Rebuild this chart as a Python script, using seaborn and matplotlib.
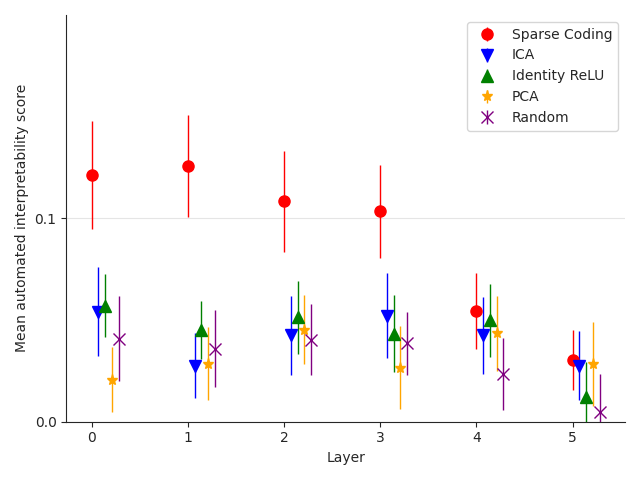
import numpy as np
import pandas as pd
import seaborn as sns
import matplotlib
matplotlib.use('Agg')
import matplotlib.pyplot as plt

layers = [0, 1, 2, 3, 4, 5]
methods = ['Sparse Coding', 'ICA', 'Identity ReLU', 'PCA', 'Random']

sparse_mean = [0.1212, 0.1256, 0.1084, 0.1034, 0.0545, 0.0305]
sparse_err = [0.0266, 0.0250, 0.0247, 0.0230, 0.0185, 0.0147]
ica_mean = [0.0542, 0.0276, 0.0424, 0.0522, 0.0424, 0.0276]
ica_err = [0.0220, 0.0158, 0.0192, 0.0210, 0.0187, 0.0169]
relu_mean = [0.0571, 0.0453, 0.0514, 0.0433, 0.0498, 0.0120]
relu_err = [0.0155, 0.0143, 0.0180, 0.0190, 0.0180, 0.0172]
pca_mean = [0.0207, 0.0286, 0.0453, 0.0266, 0.0435, 0.0284]
pca_err = [0.0160, 0.0178, 0.0170, 0.0203, 0.0184, 0.0207]
random_mean = [0.0409, 0.0360, 0.0404, 0.0386, 0.0235, 0.0049]
random_err = [0.0207, 0.0190, 0.0175, 0.0155, 0.0177, 0.0186]

means = [sparse_mean, ica_mean, relu_mean, pca_mean, random_mean]
errs = [sparse_err, ica_err, relu_err, pca_err, random_err]

rows = []
for i, m in enumerate(methods):
    for j, layer in enumerate(layers):
        rows.append({'method': m, 'layer': layer,
                     'score': means[i][j], 'err': errs[i][j]})
df = pd.DataFrame(rows)

sns.set_style('ticks')
fig, ax = plt.subplots(figsize=(6.4, 4.8), dpi=100)

colors = ['red', 'blue', 'green', 'orange', 'purple']
markers = ['o', 'v', '^', '*', 'x']
for i, m in enumerate(methods):
    sub = df[df['method'] == m]
    ax.errorbar(sub['layer'] + 0.07 * i, sub['score'], yerr=sub['err'],
                fmt=markers[i], color=colors[i], markersize=8,
                elinewidth=1, label=m)

ax.set_ylim(0, 0.2)
ax.set_yticks([0.0, 0.1])
ax.set_yticklabels(['0.0', '0.1'])
ax.yaxis.grid(True, color='#e5e5e5', linewidth=0.8)
ax.set_axisbelow(True)
ax.set_xlabel('Layer')
ax.set_ylabel('Mean automated interpretability score')
ax.legend(loc='upper right')
sns.despine(ax=ax)
fig.tight_layout()
fig.savefig('out.png')
